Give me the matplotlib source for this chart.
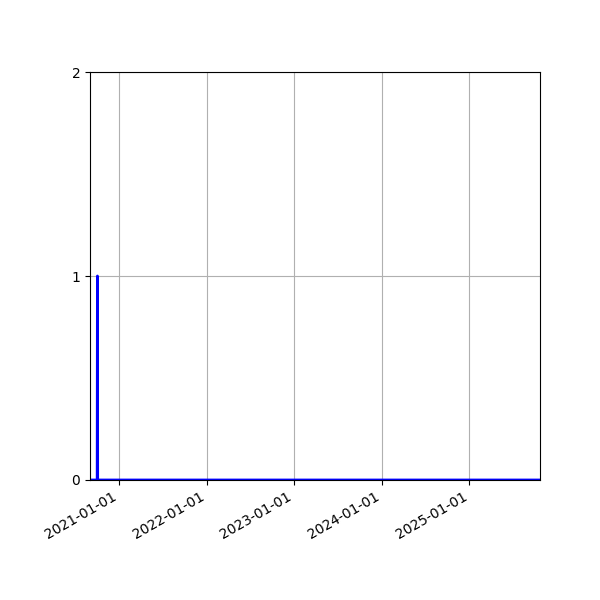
import numpy as np
import matplotlib
matplotlib.use("Agg")
import matplotlib.pyplot as plt
import matplotlib.dates as mdates

# series (zero everywhere except one day)
dates = np.array(["2020-09-01", "2020-10-01", "2020-10-02", "2020-10-03", "2025-10-23"],
                 dtype="datetime64[D]")
values = [0, 0, 1, 0, 0]

y_ticks = [0, 1, 2]

fig, ax = plt.subplots(figsize=(6, 6), dpi=100)
ax.plot(dates, values, color="blue", linewidth=2)

ax.set_xlim(dates[0], dates[-1])
ax.set_ylim(0, 2)
ax.set_yticks(y_ticks)
ax.xaxis.set_major_locator(mdates.YearLocator())
ax.xaxis.set_major_formatter(mdates.DateFormatter("%Y-%m-%d"))
ax.grid(True)

fig.autofmt_xdate()
fig.subplots_adjust(left=0.15, bottom=0.2)
fig.savefig("out.png")
